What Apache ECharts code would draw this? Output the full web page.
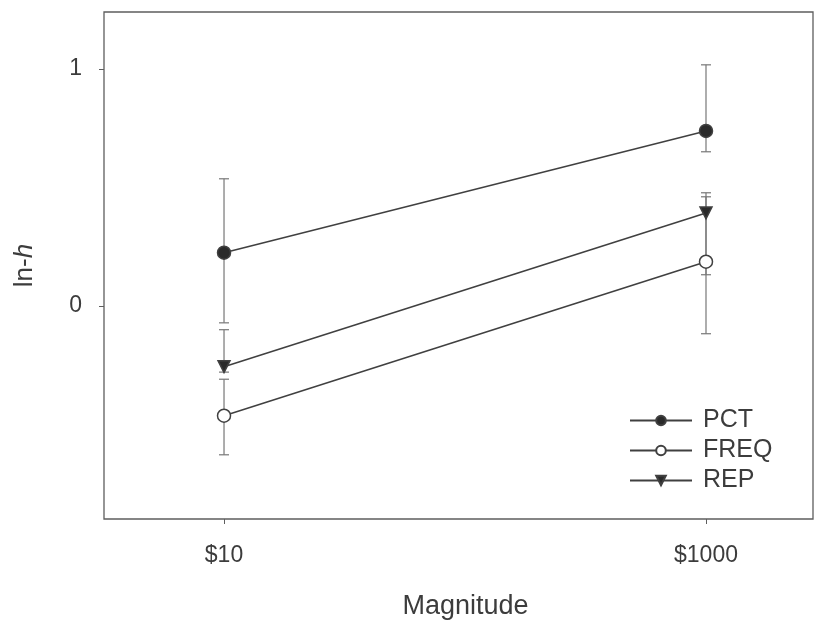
<!DOCTYPE html>
<html>
<head>
<meta charset="utf-8">
<script src="https://cdn.jsdelivr.net/npm/echarts@6/dist/echarts.min.js"></script>
<style>
  html, body { margin: 0; padding: 0; background: #fff; }
  #chart { width: 819px; height: 620px; }
</style>
</head>
<body>
<div id="chart"></div>
<script>
// Reward magnitude (dollars) on a log scale
const magnitudes = [10, 1000];
const xTickLabels = ['$10', '$1000'];
const yTickValues = [0, 1];

// ln-h means and error-bar ends per condition
const pct = [0.224, 0.738];
const pctLow = [-0.072, 0.650];
const pctHigh = [0.536, 1.017];

const freq = [-0.464, 0.186];
const freqLow = [-0.629, -0.118];
const freqHigh = [-0.310, 0.460];

const rep = [-0.257, 0.392];
const repLow = [-0.280, 0.131];
const repHigh = [-0.101, 0.477];

const FONT = '"Liberation Sans", Arial, sans-serif';
const INK = '#3c3c3c';
const LINE = '#404040';
const BAR = '#777777';
const FRAME = '#5e5e5e';

const xPos = magnitudes.map(m => Math.log10(m));

function pairs(vals) { return vals.map((v, i) => [xPos[i], v]); }
function bars(lo, hi) { return lo.map((v, i) => [xPos[i], v, hi[i]]); }

function renderBar(params, api) {
  const lo = api.coord([api.value(0), api.value(1)]);
  const hi = api.coord([api.value(0), api.value(2)]);
  const w = 5;
  const style = { stroke: BAR, lineWidth: 1.2 };
  return {
    type: 'group',
    children: [
      { type: 'line', shape: { x1: lo[0], y1: lo[1], x2: hi[0], y2: hi[1] }, style },
      { type: 'line', shape: { x1: lo[0] - w, y1: lo[1], x2: lo[0] + w, y2: lo[1] }, style },
      { type: 'line', shape: { x1: hi[0] - w, y1: hi[1], x2: hi[0] + w, y2: hi[1] }, style }
    ]
  };
}

function errorSeries(name, lo, hi) {
  return {
    name: name, type: 'custom', renderItem: renderBar,
    data: bars(lo, hi), z: 1, silent: true,
    encode: { x: 0, y: [1, 2] }
  };
}

const downTriangle = 'path://M0,0 L12,0 L6,10 Z';

function lineSeries(name, vals, symbol, size, fill) {
  return {
    name: name, type: 'line', data: pairs(vals), z: 3,
    symbol: symbol, symbolSize: size,
    lineStyle: { color: LINE, width: 1.6 },
    itemStyle: { color: fill, borderColor: LINE, borderWidth: 1.5 },
    emphasis: { disabled: true }
  };
}

const chart = echarts.init(document.getElementById('chart'), null, { renderer: 'canvas' });
chart.setOption({
  animation: false,
  backgroundColor: '#fff',
  grid: {
    left: 104, right: 6, top: 12, bottom: 101,
    outerBoundsMode: 'none', containLabel: false,
    show: true, borderColor: FRAME, borderWidth: 1.3, backgroundColor: 'transparent'
  },
  xAxis: {
    type: 'value', min: 0.502, max: 3.444,
    name: 'Magnitude', nameLocation: 'middle', nameGap: 74,
    nameTextStyle: { fontFamily: FONT, fontSize: 27, color: INK, padding: [0, 0, 0, 14] },
    axisLine: { show: false, onZero: false },
    axisTick: { show: true, length: 5, customValues: xPos, lineStyle: { color: FRAME } },
    axisLabel: {
      customValues: xPos, margin: 25,
      fontFamily: FONT, fontSize: 23, color: INK,
      formatter: v => {
        const i = xPos.findIndex(p => Math.abs(p - v) < 1e-6);
        return i >= 0 ? xTickLabels[i] : '';
      }
    },
    splitLine: { show: false }
  },
  yAxis: {
    type: 'value', min: -0.9, max: 1.24,
    name: '{a|ln-}{b|h}', nameLocation: 'middle', nameGap: 66,
    nameTextStyle: {
      rich: {
        a: { fontFamily: FONT, fontSize: 26, color: INK },
        b: { fontFamily: FONT, fontSize: 26, color: INK, fontStyle: 'italic' }
      }
    },
    axisLine: { show: false, onZero: false },
    axisTick: { show: true, length: 5, customValues: yTickValues, lineStyle: { color: FRAME } },
    axisLabel: {
      customValues: yTickValues, margin: 22,
      fontFamily: FONT, fontSize: 23, color: INK,
      formatter: v => String(v)
    },
    splitLine: { show: false }
  },
  legend: {
    orient: 'vertical', left: 624, top: 403,
    itemWidth: 62, itemHeight: 12, itemGap: 5,
    data: ['PCT', 'FREQ', 'REP'],
    textStyle: { fontFamily: FONT, fontSize: 25, lineHeight: 24, color: INK, padding: [0, 0, 0, 6] },
    selectedMode: false
  },
  series: [
    errorSeries('PCT bars', pctLow, pctHigh),
    errorSeries('FREQ bars', freqLow, freqHigh),
    errorSeries('REP bars', repLow, repHigh),
    lineSeries('PCT', pct, 'circle', 13, '#2a2a2a'),
    lineSeries('FREQ', freq, 'circle', 13, '#ffffff'),
    lineSeries('REP', rep, downTriangle, 12, '#2a2a2a')
  ]
});
</script>
</body>
</html>
